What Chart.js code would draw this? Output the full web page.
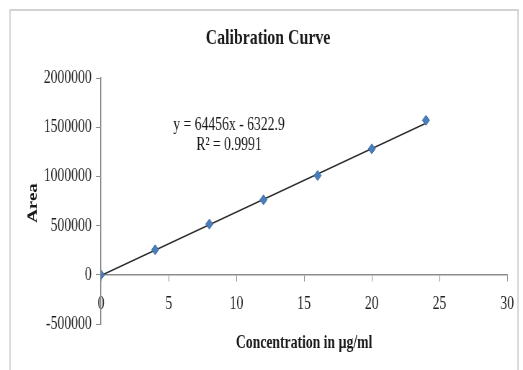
<!DOCTYPE html>
<html>
<head>
<meta charset="utf-8">
<script src="https://cdn.jsdelivr.net/npm/chart.js@4.4.1/dist/chart.umd.min.js"></script>
<style>
  html, body { margin: 0; padding: 0; background: #fff; overflow: hidden; }
  /* the original picture is squeezed sideways, so draw wide and squeeze */
  #wrap { width: 726px; height: 370px; transform: scaleX(0.7204); transform-origin: 0 0; }
</style>
</head>
<body>
<div id="wrap"><canvas id="miGrafico"></canvas></div>
<script>
// data
const concentrations = [0, 4, 8, 12, 16, 20, 24];
const areas = [0, 254000, 515000, 762000, 1009000, 1280000, 1570000];
// linear trendline end points (y = 64456x - 6322.9)
const trendX = [0, 24];
const trendY = [-6322.9, 1540621.1];
const xTicks = [0, 5, 10, 15, 20, 25, 30];
const yTicks = [-500000, 0, 500000, 1000000, 1500000, 2000000];

const titleText = 'Calibration Curve';
const xTitle = 'Concentration in µg/ml';
const yTitle = 'Area';
const eqLines = ['y = 64456x - 6322.9', 'R² = 0.9991'];

const S = 0.7204;  // horizontal squeeze
const serif = "'Liberation Serif', 'Times New Roman', serif";

window.addEventListener("load", () => {

    const ctx = document.querySelector('#miGrafico').getContext('2d');

    // frame, titles and the trendline label
    const textos = {
        id: 'textos',
        afterDraw(chart) {
            const c = chart.ctx;
            const a = chart.chartArea;
            c.save();
            c.strokeStyle = '#d2d2d2';
            c.lineWidth = 2;
            c.strokeRect(10 / S, 10, (518 - 10) / S, 400);

            c.fillStyle = '#1a1a1a';
            c.textAlign = 'center';
            c.textBaseline = 'middle';
            c.font = 'bold 22px ' + serif;
            c.fillText(titleText, 268 / S, 38);

            c.font = 'bold 19px ' + serif;
            c.fillText(xTitle, (a.left + a.right) / 2, 343);

            c.font = '19px ' + serif;
            c.fillText(eqLines[0], 229 / S, 125);
            c.fillText(eqLines[1], 229 / S, 145);

            c.translate(33 / S, 203);
            c.rotate(-Math.PI / 2);
            c.font = 'bold 19px ' + serif;
            c.fillText(yTitle, 0, 0);
            c.restore();
        }
    };

    const miGrafico = new Chart(ctx, {
        type: 'scatter',
        data: {
            datasets: [{
                label: 'Area',
                data: concentrations.map((x, i) => ({ x: x, y: areas[i] })),
                pointStyle: 'rectRot',
                pointRadius: 5,
                backgroundColor: '#4a7ebb',
                borderColor: '#3c6ca8',
                borderWidth: 1,
                order: 1
            }, {
                label: 'Linear',
                data: trendX.map((x, i) => ({ x: x, y: trendY[i] })),
                showLine: true,
                pointRadius: 0,
                borderColor: '#2b2b2b',
                borderWidth: 1.6,
                order: 2
            }]
        },
        options: {
            responsive: true,
            maintainAspectRatio: false,
            animation: false,
            layout: { padding: { top: 78, right: 22, bottom: 46, left: 0 } },
            plugins: {
                legend: { display: false },
                tooltip: { enabled: false }
            },
            scales: {
                x: {
                    type: 'linear',
                    position: { y: 0 },
                    min: 0,
                    max: 30,
                    afterFit: (s) => { s.height = 0; },
                    afterBuildTicks: (s) => { s.ticks = xTicks.map(v => ({ value: v })); },
                    grid: { drawOnChartArea: false, tickLength: 6, color: '#8c8c8c' },
                    border: { color: '#8c8c8c', width: 1.5 },
                    ticks: { padding: 12, color: '#1f1f1f', font: { family: serif, size: 19 } }
                },
                y: {
                    min: -500000,
                    max: 2000000,
                    afterFit: (s) => { s.width = 101 / S; },
                    afterBuildTicks: (s) => { s.ticks = yTicks.map(v => ({ value: v })); },
                    grid: { drawOnChartArea: false, tickLength: 7, color: '#8c8c8c' },
                    border: { color: '#8c8c8c', width: 1.5 },
                    ticks: {
                        padding: 6,
                        color: '#1f1f1f',
                        font: { family: serif, size: 19 },
                        callback: (v) => String(v)
                    }
                }
            }
        },
        plugins: [textos]
    });

    console.log(miGrafico);
})
</script>
</body>
</html>
